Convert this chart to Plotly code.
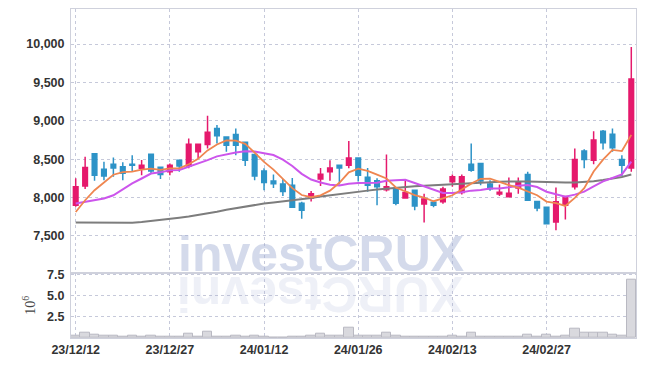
import plotly.graph_objects as go

dates = [
    "2023-12-12", "2023-12-13", "2023-12-14", "2023-12-15", "2023-12-18", "2023-12-19",
    "2023-12-20", "2023-12-21", "2023-12-22", "2023-12-26", "2023-12-27", "2023-12-28",
    "2024-01-02", "2024-01-03", "2024-01-04", "2024-01-05", "2024-01-08", "2024-01-09",
    "2024-01-10", "2024-01-11", "2024-01-12", "2024-01-15", "2024-01-16", "2024-01-17",
    "2024-01-18", "2024-01-19", "2024-01-22", "2024-01-23", "2024-01-24", "2024-01-25",
    "2024-01-26", "2024-01-29", "2024-01-30", "2024-01-31", "2024-02-01", "2024-02-02",
    "2024-02-05", "2024-02-06", "2024-02-07", "2024-02-08", "2024-02-13", "2024-02-14",
    "2024-02-15", "2024-02-16", "2024-02-19", "2024-02-20", "2024-02-21", "2024-02-22",
    "2024-02-23", "2024-02-26", "2024-02-27", "2024-02-28", "2024-02-29", "2024-03-04",
    "2024-03-05", "2024-03-06", "2024-03-07", "2024-03-08", "2024-03-11", "2024-03-12",
]

open_ = [7900, 8150, 8570, 8370, 8435, 8400, 8435, 8380, 8565, 8395,
         8335, 8485, 8410, 8595, 8690, 8900, 8790, 8820, 8720, 8560,
         8345, 8215, 8175, 8160, 7925, 7995, 8240, 8335, 8420, 8420,
         8515, 8265, 8220, 8100, 8100, 7995, 8095, 7915, 7940, 7945,
         8205, 8065, 8435, 8445, 8175, 8045, 8010, 8125, 8300, 7950,
         7875, 7680, 7900, 8140, 8605, 8485, 8865, 8825, 8495, 8385]
high = [8250, 8530, 8580, 8465, 8520, 8460, 8550, 8490, 8570, 8400,
        8445, 8490, 8770, 8700, 9065, 8945, 8800, 8900, 8725, 8565,
        8380, 8300, 8240, 8255, 7945, 8085, 8385, 8485, 8425, 8735,
        8520, 8385, 8250, 8560, 8120, 8240, 8100, 8050, 7950, 8140,
        8300, 8300, 8705, 8450, 8225, 8170, 8260, 8260, 8335, 7955,
        7880, 8130, 8020, 8640, 8630, 8865, 8880, 8900, 8550, 9960]
low = [7880, 8110, 8220, 8225, 8270, 8225, 8345, 8290, 8310, 8240,
       8290, 8335, 8380, 8510, 8640, 8705, 8595, 8550, 8410, 8225,
       8095, 8125, 8020, 7870, 7725, 7950, 8150, 8220, 8170, 8380,
       8210, 8075, 7900, 8080, 7900, 7985, 7835, 7675, 7875, 7920,
       8140, 8040, 8335, 8160, 8090, 8020, 8000, 8050, 7960, 7820,
       7650, 7575, 7715, 8105, 8380, 8435, 8625, 8595, 8280, 8335]
close = [8140, 8390, 8290, 8280, 8385, 8315, 8420, 8420, 8345, 8300,
         8420, 8410, 8695, 8695, 8850, 8805, 8680, 8680, 8485, 8280,
         8195, 8180, 8080, 7875, 7835, 8050, 8305, 8385, 8385, 8515,
         8290, 8160, 8140, 8140, 7925, 8065, 7890, 7980, 7900, 8110,
         8270, 8270, 8355, 8215, 8115, 8070, 8055, 8195, 7965, 7865,
         7660, 7945, 8015, 8495, 8495, 8750, 8715, 8650, 8420, 9545]

ma5 = [7812, 7965, 8095, 8196, 8297, 8332, 8338, 8364, 8377, 8360,
       8381, 8379, 8434, 8504, 8614, 8691, 8745, 8742, 8700, 8586,
       8464, 8364, 8244, 8122, 8033, 8004, 8029, 8090, 8192, 8328,
       8376, 8347, 8298, 8249, 8131, 8086, 8032, 8000, 7952, 7989,
       8030, 8106, 8181, 8244, 8245, 8205, 8162, 8130, 8080, 8030,
       7948, 7926, 7890, 7996, 8122, 8340, 8494, 8621, 8606, 8816]
ma10 = [7921, 7943, 7965, 7987, 8030, 8108, 8183, 8248, 8313, 8328,
        8356, 8358, 8399, 8440, 8487, 8536, 8562, 8588, 8602, 8600,
        8577, 8554, 8493, 8411, 8309, 8234, 8196, 8167, 8157, 8180,
        8190, 8188, 8194, 8220, 8229, 8231, 8189, 8149, 8100, 8060,
        8058, 8069, 8090, 8098, 8117, 8117, 8134, 8155, 8162, 8137,
        8076, 8044, 8010, 8038, 8076, 8144, 8210, 8255, 8301, 8469]
ma60 = [7675, 7673, 7671, 7670, 7669, 7669, 7672, 7680, 7692, 7708,
        7722, 7737, 7752, 7770, 7792, 7815, 7840, 7862, 7882, 7902,
        7922, 7935, 7948, 7962, 7978, 7995, 8013, 8030, 8046, 8060,
        8075, 8090, 8104, 8117, 8129, 8139, 8147, 8155, 8162, 8170,
        8178, 8185, 8192, 8199, 8204, 8207, 8210, 8212, 8210, 8205,
        8200, 8198, 8197, 8196, 8200, 8212, 8228, 8245, 8268, 8300]

volume_m = [0.23, 0.63, 0.39, 0.23, 0.23, 0.12, 0.23, 0.15, 0.23, 0.12,
            0.12, 0.15, 0.48, 0.15, 0.71, 0.15, 0.12, 0.23, 0.15, 0.23,
            0.12, 0.08, 0.06, 0.10, 0.12, 0.23, 0.48, 0.23, 0.23, 1.19,
            0.30, 0.23, 0.23, 0.63, 0.23, 0.12, 0.10, 0.10, 0.10, 0.12,
            0.23, 0.12, 0.60, 0.20, 0.12, 0.10, 0.10, 0.15, 0.40, 0.15,
            0.40, 0.15, 0.23, 1.07, 0.63, 0.63, 0.63, 0.40, 0.24, 6.95]

tick_dates = ["2023-12-12", "2023-12-27", "2024-01-12", "2024-01-26", "2024-02-13", "2024-02-27"]
tick_labels = ["23/12/12", "23/12/27", "24/01/12", "24/01/26", "24/02/13", "24/02/27"]
price_ticks = [7500, 8000, 8500, 9000, 9500, 10000]
vol_ticks = [2.5, 5.0, 7.5]
vol_tick_labels = ["2.5", "5.0", "7.5"]

INC = "#e5196c"
DEC = "#2d93c7"
GRID = "#c6c9da"
AXLINE = "#cfd1dc"
FONT = "Liberation Sans, Arial, sans-serif"
TICKFONT = dict(family=FONT, size=12.5, color="#333333", weight="bold")

fig = go.Figure()

fig.add_trace(go.Bar(
    x=dates, y=volume_m, xaxis="x2", yaxis="y2",
    marker=dict(color="#d9d9de", line=dict(color="#b9b9c2", width=1)),
    showlegend=False, hoverinfo="skip"))

fig.add_trace(go.Candlestick(
    x=dates, open=open_, high=high, low=low, close=close,
    increasing=dict(line=dict(color=INC, width=1.5), fillcolor=INC),
    decreasing=dict(line=dict(color=DEC, width=1.5), fillcolor=DEC),
    showlegend=False, xaxis="x", yaxis="y"))

fig.add_trace(go.Scatter(x=dates, y=ma60, mode="lines",
                         line=dict(color="#7d7d7d", width=2), showlegend=False))
fig.add_trace(go.Scatter(x=dates, y=ma10, mode="lines",
                         line=dict(color="#cc55ec", width=2), showlegend=False))
fig.add_trace(go.Scatter(x=dates, y=ma5, mode="lines",
                         line=dict(color="#ef8650", width=1.8), showlegend=False))

split = 0.1985
common_x = dict(type="category", range=[-0.5, len(dates) - 0.5], autorange=False,
                tickmode="array", tickvals=tick_dates, ticktext=tick_labels,
                showgrid=True, gridcolor=GRID, griddash="dot", gridwidth=1,
                showline=True, mirror=True, linecolor=AXLINE, linewidth=1,
                rangeslider=dict(visible=False), ticks="", zeroline=False,
                automargin=False)

fig.update_layout(
    width=645, height=366,
    margin=dict(l=71, r=9, t=9, b=28),
    paper_bgcolor="white", plot_bgcolor="white",
    font=dict(family=FONT, size=12.5, color="#333333"),
    xaxis=dict(domain=[0, 1], anchor="y", showticklabels=False, **common_x),
    xaxis2=dict(domain=[0, 1], anchor="y2", showticklabels=True,
                tickfont=TICKFONT, **common_x),
    yaxis=dict(domain=[split, 1], anchor="x", range=[7021, 10456], autorange=False,
               tickmode="array", tickvals=price_ticks, tickformat=",d", tickfont=TICKFONT,
               showgrid=True, gridcolor=GRID, griddash="dot", ticklabelstandoff=3,
               showline=True, mirror=True, linecolor=AXLINE, ticks="", zeroline=False,
               automargin=False),
    yaxis2=dict(domain=[0, split], anchor="x2", range=[0, 7.75], autorange=False,
                tickmode="array", tickvals=vol_ticks, ticktext=vol_tick_labels,
                tickfont=TICKFONT, ticklabelstandoff=3,
                showgrid=True, gridcolor=GRID, griddash="dot",
                showline=True, mirror=True, linecolor=AXLINE, ticks="", zeroline=False,
                automargin=False,
                title=dict(text="10<sup>6</sup>", standoff=8,
                           font=dict(family="Liberation Serif, DejaVu Serif, serif",
                                     size=14, color="#444444"))),
    bargap=0.0,
    showlegend=False,
)

fig.add_annotation(text="<b>investCRUX</b>", xref="paper", yref="paper",
                   x=0.4416, y=0.255, xanchor="center", yanchor="middle", showarrow=False,
                   font=dict(family=FONT, size=50, color="rgba(160,172,210,0.45)"))
fig.add_annotation(text="<b>XURCtsevni</b>", xref="paper", yref="paper",
                   x=0.4416, y=0.134, xanchor="center", yanchor="middle", showarrow=False,
                   textangle=180,
                   font=dict(family=FONT, size=50, color="rgba(160,172,210,0.18)"))

fig.write_html("out.html", config={"displayModeBar": False},
               post_script="document.body.style.margin='0px';")
